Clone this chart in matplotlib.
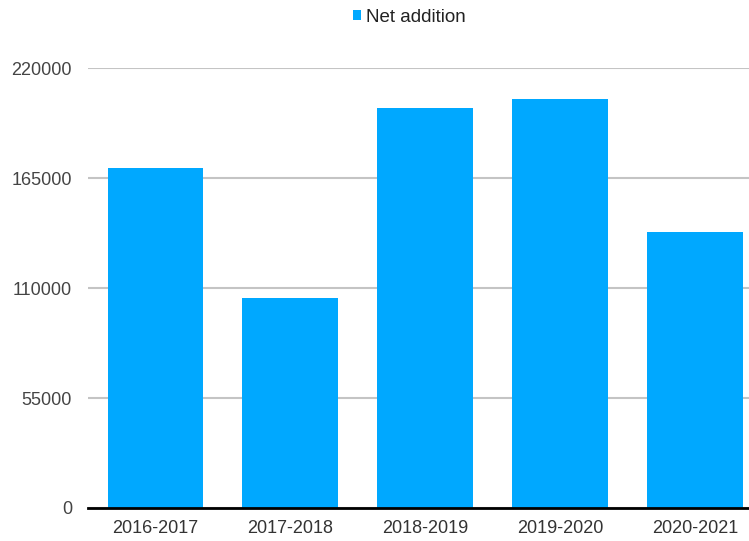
import numpy as np
import matplotlib.pyplot as plt

periods = ["2016-2017", "2017-2018", "2018-2019", "2019-2020", "2020-2021"]
net_addition = [170000, 105000, 200000, 204500, 138000]
y_ticks = [0, 55000, 110000, 165000, 220000]

plt.rcParams["font.family"] = ["Liberation Sans", "DejaVu Sans"]

fig = plt.figure(figsize=(7.49, 5.41), dpi=100)
ax = fig.add_axes([0.1175, 0.061, 0.9005, 0.813])

x = np.arange(len(periods))
ax.bar(x, net_addition, width=0.71, color="#00a8ff", label="Net addition", zorder=3)

ax.set_xlim(-0.5, len(periods) - 0.5)
ax.set_ylim(0, 220000)
ax.set_yticks(y_ticks)
ax.set_yticklabels([str(t) for t in y_ticks])
ax.set_xticks(x)
ax.set_xticklabels(periods)

ax.yaxis.grid(True, color="#c4c4c4", linewidth=1.5, zorder=0)
ax.tick_params(axis="y", length=0, pad=11.5, labelsize=13, labelcolor="#444444")
ax.tick_params(axis="x", length=0, pad=9, labelsize=13, labelcolor="#333333")

for side in ["top", "right", "left"]:
    ax.spines[side].set_visible(False)
ax.spines["bottom"].set_color("black")
ax.spines["bottom"].set_linewidth(2)
ax.spines["bottom"].set_zorder(4)

fig.legend(loc="center", bbox_to_anchor=(0.546, 0.968), frameon=False,
           fontsize=13.5, handlelength=0.45, handleheight=0.45, handletextpad=0.25,
           labelcolor="#222222")

fig.savefig("out.png", dpi=100)
